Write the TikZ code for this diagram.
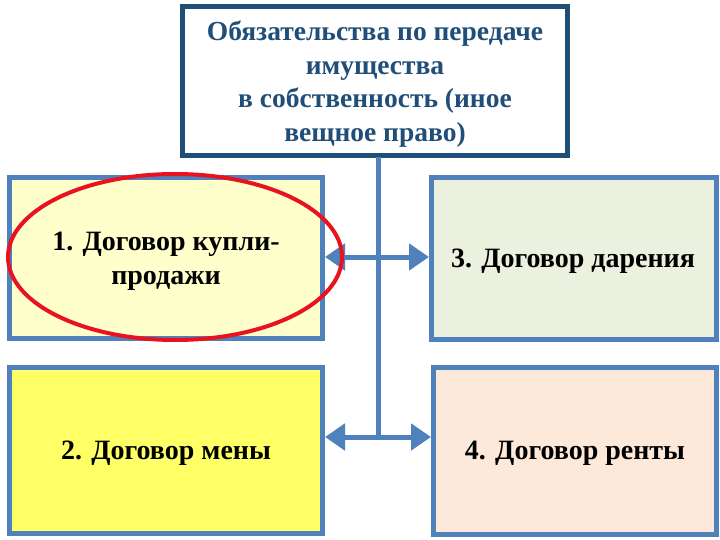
\documentclass[tikz,border=0pt]{standalone}
\usepackage{fontspec}
\setmainfont{Liberation Serif}
\usetikzlibrary{arrows.meta,shapes.geometric}
\definecolor{topblue}{HTML}{1F4E79}
\definecolor{boxblue}{HTML}{4F81BD}
\definecolor{fillA}{HTML}{FFFFCC}
\definecolor{fillB}{HTML}{FFFF66}
\definecolor{fillC}{HTML}{EBF1DE}
\definecolor{fillD}{HTML}{FDE9D9}
\definecolor{ovalred}{HTML}{E8131F}
\tikzset{
  x=1pt,y=-1pt,
  topbox/.style={draw=topblue,line width=5pt,fill=white,inner sep=0pt},
  toptext/.style={text=topblue,font=\bfseries\fontsize{27.5}{33.5}\selectfont,align=center},
  leafbox/.style={draw=boxblue,line width=5pt,inner sep=0pt},
  leaftext/.style={font=\bfseries\fontsize{28}{34}\selectfont,align=center},
  link/.style={draw=boxblue,line width=5pt},
  dbl/.style={link,{Triangle[length=20pt,width=26pt]}-{Triangle[length=20pt,width=26pt]}},
}
\begin{document}
\begin{tikzpicture}
\useasboundingbox (0,0) rectangle (720,540);
\fill[white] (0,0) rectangle (720,540);
% boxes
\node[topbox,minimum width=385pt,minimum height=149pt] (top) at (375,81) {};
\node[leafbox,fill=fillA,minimum width=313pt,minimum height=161pt] (b1) at (166,258) {};
\node[leafbox,fill=fillB,minimum width=313pt,minimum height=166pt] (b2) at (166,450.5) {};
\node[leafbox,fill=fillC,minimum width=285pt,minimum height=162pt] (b3) at (574,258.5) {};
\node[leafbox,fill=fillD,minimum width=283pt,minimum height=167pt] (b4) at (575,451) {};
% connectors
\coordinate (vtop) at (378,157);
\coordinate (vbot) at (378,437);
\draw[link] (vtop) -- (vbot);
\draw[dbl] (b1.east |- 0,257) -- (b3.west |- 0,257);
\draw[dbl] (b2.east |- 0,437) -- (b4.west |- 0,437);
% texts
\node[toptext] (t0) at (375,84) {Обязательства по передаче\\имущества\\в собственность (иное\\вещное право)};
\node[leaftext] (t1) at (166,261) {1. Договор купли-\\продажи};
\node[leaftext] (t2) at (166,453) {2. Договор мены};
\node[leaftext] (t3) at (573,261) {3. Договор дарения};
\node[leaftext] (t4) at (575,453) {4. Договор ренты};
% red oval
\node[draw=ovalred,line width=4pt,ellipse,minimum width=334pt,minimum height=166pt,inner sep=0pt] (oval) at (175,257) {};
\end{tikzpicture}
\end{document}
